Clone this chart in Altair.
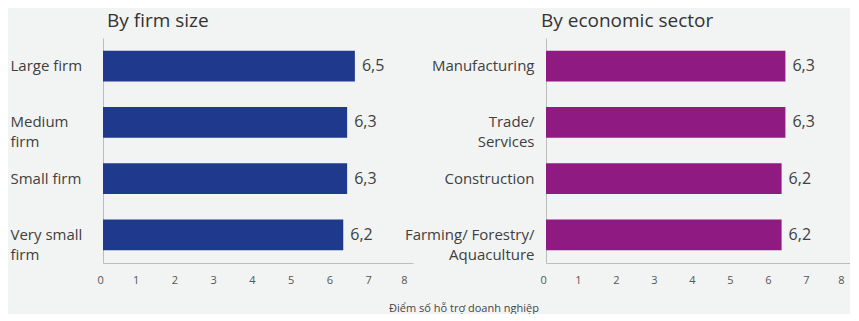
import altair as alt
import pandas as pd

# Data
size_cats = ["Large firm", "Medium|firm", "Small firm", "Very small|firm"]
size_vals = [6.5, 6.3, 6.3, 6.2]
sector_cats = ["Manufacturing", "Trade/|Services", "Construction", "Farming/ Forestry/|Aquaculture"]
sector_vals = [6.3, 6.3, 6.2, 6.2]
x_ticks = [0, 1, 2, 3, 4, 5, 6, 7, 8]

panel_titles = ["By firm size", "By economic sector"]
axis_title = "Điểm số hỗ trợ doanh nghiệp"

BG = "#f2f4f3"
TXT = "#404040"
FONT = "Open Sans"


def panel(cats, vals, color, title, title_dx, label_align, label_pad, width):
    df = pd.DataFrame({"cat": cats, "val": vals})
    base = alt.Chart(df).encode(
        y=alt.Y(
            "cat:N",
            sort=None,
            scale=alt.Scale(paddingInner=0.45, paddingOuter=0.225),
            axis=alt.Axis(
                title=None,
                ticks=False,
                tickSize=0,
                labelAlign=label_align,
                labelPadding=label_pad,
                labelFontSize=15,
                labelFont=FONT,
                labelColor=TXT,
                labelLineHeight=20,
                labelExpr="split(datum.label, '|')",
                domainColor="#bdbdbd",
                labelLimit=300,
            ),
        ),
        x=alt.X(
            "val:Q",
            scale=alt.Scale(domain=[0, 8], nice=False),
            axis=alt.Axis(
                title=None,
                values=x_ticks,
                grid=False,
                ticks=False,
                tickSize=0,
                labelOffset=-6,
                labelPadding=11,
                labelFontSize=11,
                labelFont=FONT,
                labelColor="#555555",
                domainColor="#bdbdbd",
            ),
        ),
    )
    bars = base.mark_bar(color=color)
    labels = base.transform_calculate(
        lab="replace(format(datum.val, '.1f'), '.', ',')"
    ).mark_text(align="left", dx=7, fontSize=16, font=FONT, color=TXT).encode(
        text="lab:N"
    )
    return (bars + labels).properties(
        width=width,
        height=225,
        title=alt.TitleParams(
            title,
            anchor="start",
            frame="group",
            fontSize=19,
            font=FONT,
            fontWeight="normal",
            color="#333333",
            dx=title_dx,
            offset=7,
        ),
    )


left = panel(size_cats, size_vals, "#1f3a8c", panel_titles[0], 4, "left", 93, 310)
right = panel(sector_cats, sector_vals, "#8e1a82", panel_titles[1], -5, "right", 12, 304)

chart = (
    alt.hconcat(left, right, spacing=133, bounds="flush")
    .properties(
        title=alt.TitleParams(
            axis_title,
            orient="bottom",
            anchor="middle",
            fontSize=11,
            font=FONT,
            fontWeight="normal",
            color="#444444",
            dx=34,
            offset=18,
        ),
        background=BG,
        padding={"left": 2, "top": 4, "right": 0, "bottom": 0},
    )
    .configure_view(stroke=None)
)

chart.save("out.html", embed_options={"renderer": "svg", "actions": False})
